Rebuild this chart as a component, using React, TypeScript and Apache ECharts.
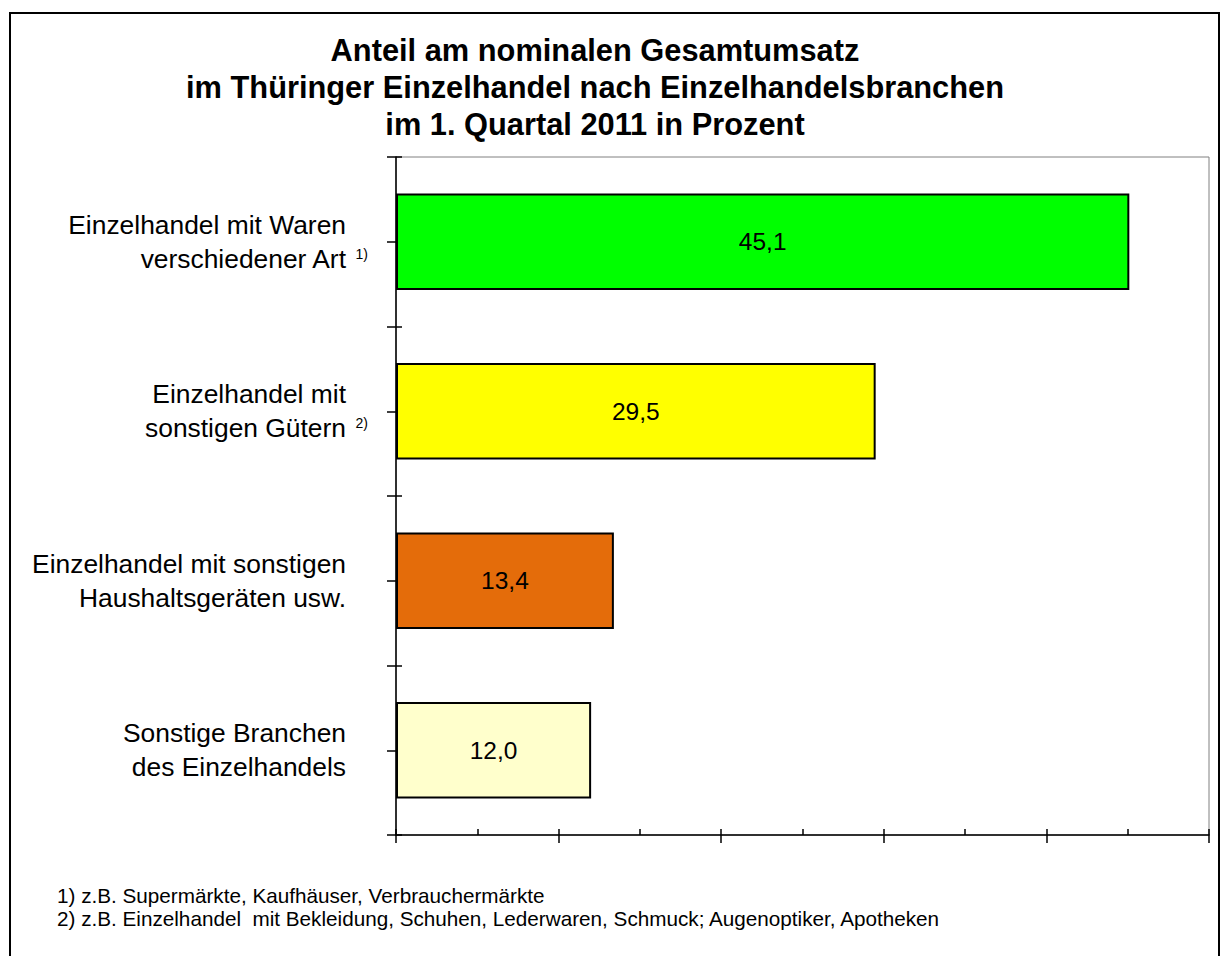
import React, { useEffect, useRef } from "react";
import * as echarts from "echarts";

const titleLines = [
  "Anteil am nominalen Gesamtumsatz",
  "im Thüringer Einzelhandel nach Einzelhandelsbranchen",
  "im 1. Quartal 2011 in Prozent",
];
const categories = [
  "Einzelhandel mit Waren\nverschiedener Art",
  "Einzelhandel mit\nsonstigen Gütern",
  "Einzelhandel mit sonstigen\nHaushaltsgeräten usw.",
  "Sonstige Branchen\ndes Einzelhandels",
];
const footnoteMarks = ["1)", "2)", "", ""];
const values = [45.1, 29.5, 13.4, 12.0];
const barColors = ["#00FF00", "#FFFF00", "#E46C0A", "#FFFFCC"];
const xMin = 0;
const xMax = 50;
const xInterval = 10;
const footnotes = [
  "1) z.B. Supermärkte, Kaufhäuser, Verbrauchermärkte",
  "2) z.B. Einzelhandel  mit Bekleidung, Schuhen, Lederwaren, Schmuck; Augenoptiker, Apotheken",
];

const FONT = "'Liberation Sans', Arial, sans-serif";

export default function App() {
  const ref = useRef<HTMLDivElement>(null);
  useEffect(() => {
    if (!ref.current) return;
    const chart = echarts.init(ref.current, null, { renderer: "svg" });
    const catIndex: Record<string, number> = {};
    categories.forEach((c, i) => (catIndex[c] = i));

    const halfTickAxisBase = {
      type: "value",
      position: "left",
      min: 0,
      max: categories.length * 2,
      interval: 1,
      axisLine: { show: false },
      axisLabel: { show: false },
      splitLine: { show: false },
    };

    const option: any = {
      animation: false,
      backgroundColor: "#ffffff",
      title: {
        text: titleLines.join("\n"),
        left: 595,
        textAlign: "center",
        top: 32,
        padding: 0,
        textStyle: {
          fontFamily: FONT,
          fontSize: 30.8,
          fontWeight: "bold",
          color: "#000",
          lineHeight: 37,
        },
      },
      grid: {
        left: 396,
        right: 17,
        top: 157,
        bottom: 121,
        show: true,
        borderColor: "#808080",
        borderWidth: 1,
        backgroundColor: "transparent",
      },
      xAxis: [
        {
          type: "value",
          min: xMin,
          max: xMax,
          interval: xInterval,
          position: "bottom",
          axisLine: { show: true, onZero: false, lineStyle: { color: "#000", width: 1.5 } },
          axisTick: { show: true, inside: true, length: 6, lineStyle: { color: "#000", width: 1.5 } },
          minorTick: { show: true, splitNumber: 2, length: 6, lineStyle: { color: "#000", width: 1.5 } },
          axisLabel: { show: false },
          splitLine: { show: false },
          minorSplitLine: { show: false },
        },
        {
          type: "value",
          min: xMin,
          max: xMax,
          interval: xInterval,
          position: "bottom",
          axisLine: { show: false, onZero: false },
          axisTick: { show: true, inside: false, length: 8, lineStyle: { color: "#000", width: 1.5 } },
          axisLabel: { show: false },
          splitLine: { show: false },
        },
      ],
      yAxis: [
        {
          type: "category",
          data: categories,
          inverse: true,
          position: "left",
          axisLine: { show: true, onZero: false, lineStyle: { color: "#000", width: 1.5 } },
          axisTick: { show: false },
          splitLine: { show: false },
          axisLabel: {
            margin: 28,
            align: "right",
            formatter: (value: string) => {
              const idx = catIndex[value];
              const mark = footnoteMarks[idx] || "";
              const lines = value.split("\n");
              return lines
                .map((ln, li) => {
                  const last = li === lines.length - 1;
                  if (last && mark) return `{t|${ln}}{s|${mark}}`;
                  return `{t|${ln}}{g| }`;
                })
                .join("\n");
            },
            rich: {
              t: { fontFamily: FONT, fontSize: 26.4, lineHeight: 34, color: "#000" },
              g: { fontFamily: FONT, fontSize: 14, width: 22, lineHeight: 34 },
              s: {
                fontFamily: FONT,
                fontSize: 14,
                width: 22,
                align: "right",
                lineHeight: 14,
                verticalAlign: "middle",
                padding: [0, 0, 10, 0],
                color: "#000",
              },
            },
          },
        },
        {
          ...halfTickAxisBase,
          axisTick: { show: true, inside: true, length: 6, lineStyle: { color: "#000", width: 1.5 } },
        },
        {
          ...halfTickAxisBase,
          axisTick: { show: true, inside: false, length: 9, lineStyle: { color: "#000", width: 1.5 } },
        },
      ],
      series: [
        {
          type: "bar",
          xAxisIndex: 0,
          yAxisIndex: 0,
          barCategoryGap: "43%",
          data: values.map((v, i) => ({
            value: v,
            itemStyle: { color: barColors[i], borderColor: "#000", borderWidth: 2 },
          })),
          label: {
            show: true,
            position: "inside",
            color: "#000",
            fontFamily: FONT,
            fontSize: 24.5,
            formatter: (p: any) => Number(p.value).toFixed(1).replace(".", ","),
          },
        },
      ],
      graphic: [
        {
          type: "rect",
          shape: { x: 10, y: 13, width: 1209, height: 1000 },
          style: { fill: "none", stroke: "#000", lineWidth: 2 },
          silent: true,
        },
        ...footnotes.map((t, i) => ({
          type: "text",
          x: 57,
          y: 895 + i * 23,
          style: {
            text: t,
            fill: "#000",
            font: `20.7px ${FONT}`,
            align: "left",
            verticalAlign: "middle",
            textAlign: "left",
            textVerticalAlign: "middle",
          },
          silent: true,
        })),
      ],
    };
    chart.setOption(option);
    return () => chart.dispose();
  }, []);
  return (
    <div
      ref={ref}
      style={{ position: "fixed", left: 0, top: 0, width: 1226, height: 956 }}
    />
  );
}
